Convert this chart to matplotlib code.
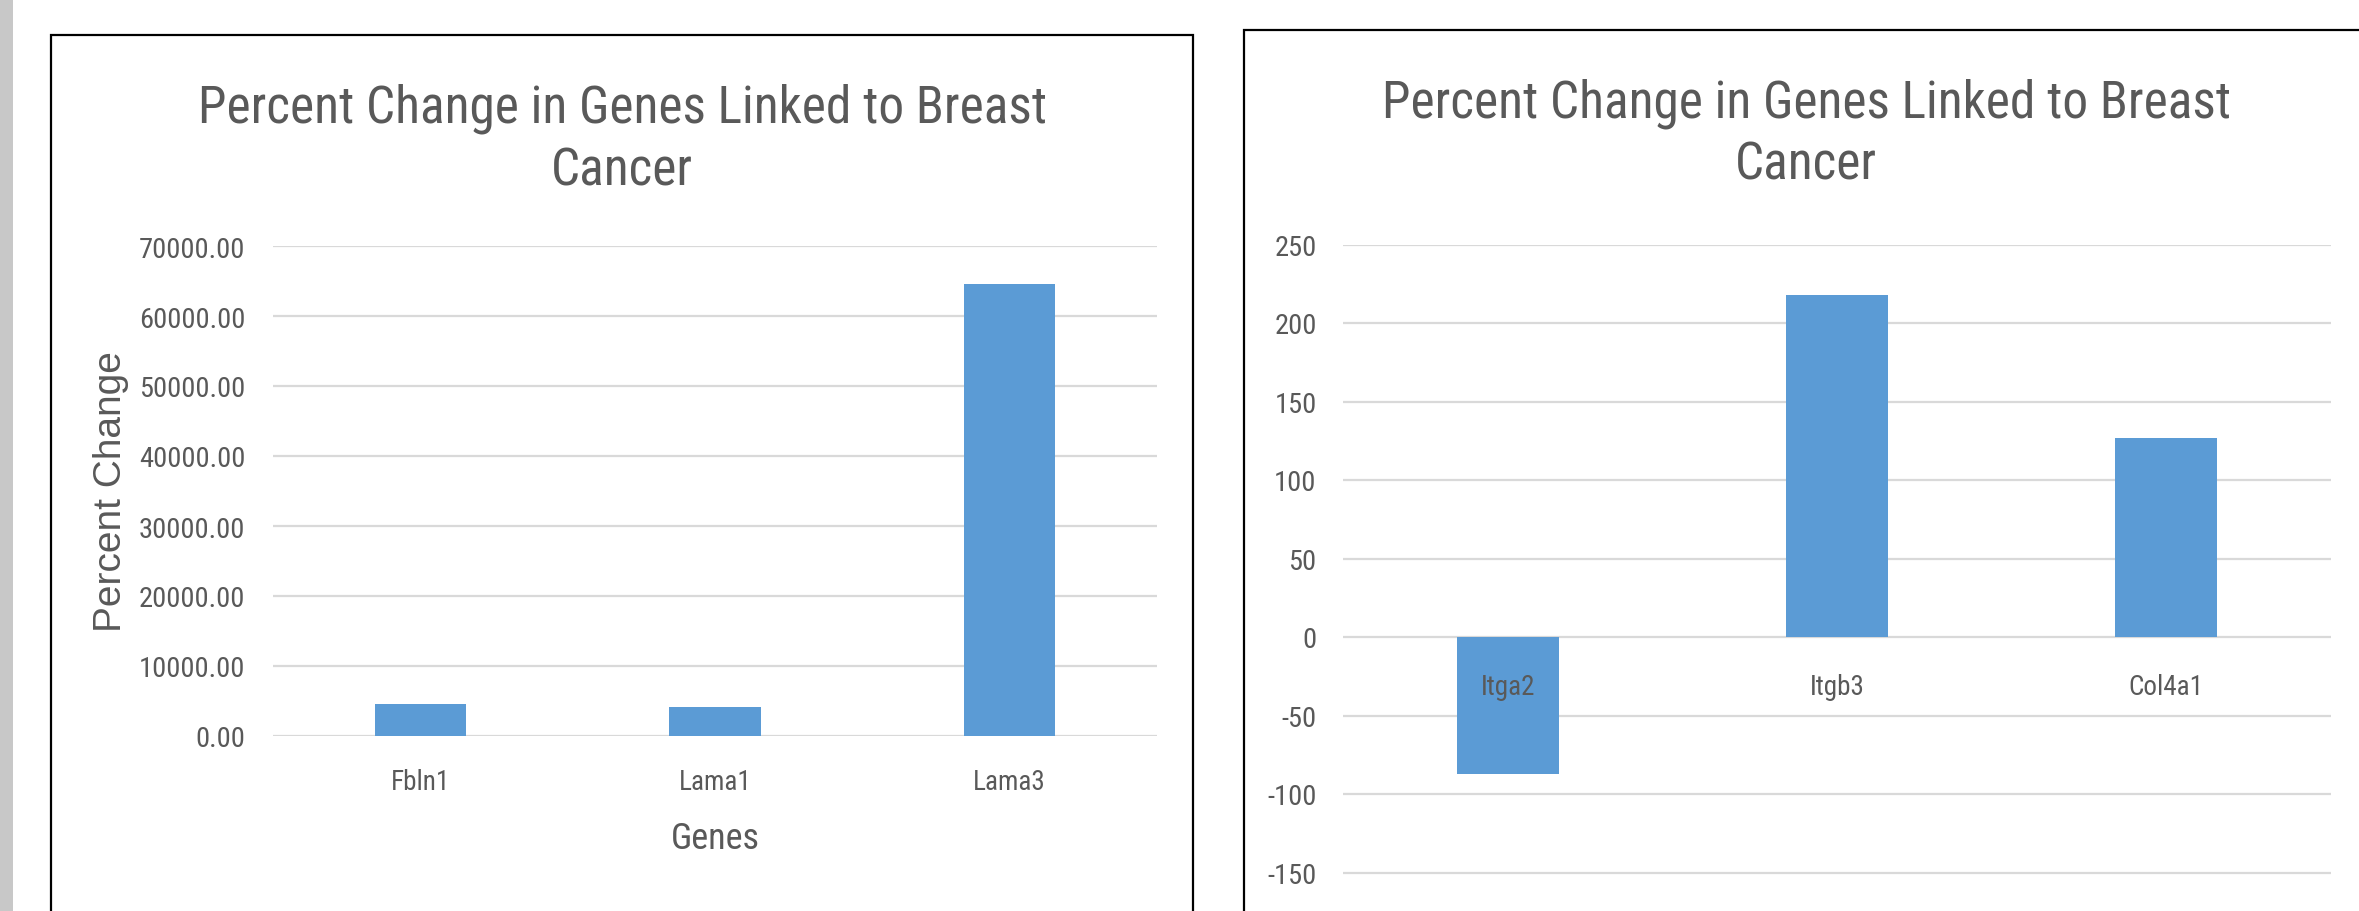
import numpy as np
import matplotlib
matplotlib.use("Agg")
import matplotlib.pyplot as plt
from matplotlib.patches import Rectangle
from matplotlib import font_manager
from matplotlib.font_manager import FontProperties

# data
left_genes = ["Fbln1", "Lama1", "Lama3"]
left_values = [4560, 4150, 64600]
left_yticks = [0, 10000, 20000, 30000, 40000, 50000, 60000, 70000]

right_genes = ["Itga2", "Itgb3", "Col4a1"]
right_values = [-87, 218, 127]
right_yticks = [-150, -100, -50, 0, 50, 100, 150, 200, 250]

title = "Percent Change in Genes Linked to Breast\nCancer"

W, H = 2359, 912
TXT = "#595959"
BAR = "#5B9BD5"
GRID = "#D9D9D9"


def find_narrow():
    # look for any regular condensed / narrow sans face on the system
    prefs = ["liberation sans narrow", "arial narrow", "roboto condensed",
             "open sans condensed", "noto sans", "dejavu sans", "lato", "inter"]
    found = []
    for f in font_manager.fontManager.ttflist:
        tag = (f.name + " " + str(f.stretch) + " " + f.fname).lower()
        if f.style != "normal":
            continue
        if f.weight not in (400, "normal", "regular", "book"):
            continue
        if not any(k in tag for k in ("narrow", "condensed", "cond")):
            continue
        if "extra" in tag or "ultra" in tag or "semi" in tag or "bold" in tag:
            continue
        rank = next((i for i, p in enumerate(prefs) if p in f.name.lower()), 99)
        found.append((rank, f.fname))
    if found:
        found.sort()
        return FontProperties(fname=found[0][1]), True
    return FontProperties(family="Liberation Sans"), False


narrow, is_narrow = find_narrow()
shrink = 1.0 if is_narrow else 0.85


def nf(size):
    fp = narrow.copy()
    fp.set_size(size * shrink)
    return fp


def px_box(x0, y0, x1, y1):
    # pixel box (top-left origin) -> figure fraction [l, b, w, h]
    return [x0 / W, 1 - y1 / H, (x1 - x0) / W, (y1 - y0) / H]


fig = plt.figure(figsize=(W / 100, H / 100), dpi=100)
fig.patch.set_facecolor("white")

# grey strip on the far left and the two chart frames
fig.patches.append(Rectangle((0, 0), 13 / W, 1, transform=fig.transFigure,
                             facecolor="#C8C8C8", edgecolor="none"))
for x0, y0, x1, y1 in [(51, 36, 1193, 925), (1244, 31, 2375, 960)]:
    l, b, w, h = px_box(x0, y0, x1, y1)
    fig.patches.append(Rectangle((l, b), w, h, transform=fig.transFigure,
                                 facecolor="none", edgecolor="black",
                                 linewidth=1.6, zorder=5))


def style(ax, yticks):
    for s in ax.spines.values():
        s.set_visible(False)
    ax.set_facecolor("none")
    for v in yticks:
        ax.axhline(v, color=GRID, linewidth=1.6, zorder=0.5)
    ax.tick_params(axis="both", length=0, colors=TXT)
    for lab in ax.get_yticklabels():
        lab.set_fontproperties(nf(20.5))
    for lab in ax.get_xticklabels():
        lab.set_fontproperties(nf(19.5))


# left chart
ax1 = fig.add_axes(px_box(273, 247, 1157, 737))
x1 = np.arange(len(left_genes))
ax1.bar(x1, left_values, width=0.31, color=BAR, zorder=1)
ax1.set_xlim(-0.5, 2.5)
ax1.set_ylim(0, 70000)
ax1.set_yticks(left_yticks)
ax1.set_yticklabels([f"{v:.2f}" for v in left_yticks])
ax1.set_xticks(x1)
ax1.set_xticklabels(left_genes)
style(ax1, left_yticks)
ax1.tick_params(axis="y", pad=20)
ax1.tick_params(axis="x", pad=23)
ax1.set_xlabel("Genes", fontproperties=nf(26), color=TXT, labelpad=18)
ax1.set_ylabel("Percent Change", fontfamily="Liberation Sans", fontsize=28,
               color=TXT)
ax1.yaxis.set_label_coords((129 - 273) / (1157 - 273), 0.5)

# right chart (its lower part is cut off by the screenshot)
ax2 = fig.add_axes(px_box(1343, 245.5, 2331, 952))
x2 = np.arange(len(right_genes))
ax2.bar(x2, right_values, width=0.31, color=BAR, zorder=1)
ax2.set_xlim(-0.5, 2.5)
ax2.set_ylim(-200, 250)
ax2.set_yticks(right_yticks)
ax2.set_yticklabels([str(v) for v in right_yticks])
ax2.set_xticks(x2)
ax2.set_xticklabels(right_genes)
ax2.spines["bottom"].set_position(("data", 0))
style(ax2, right_yticks)
ax2.tick_params(axis="y", pad=19)
ax2.tick_params(axis="x", pad=26)

# titles (baseline = last line)
for cx, base in [(622, 185), (1806, 180)]:
    fig.text(cx / W, 1 - base / H, title, ha="center", va="baseline",
             multialignment="center", fontproperties=nf(37),
             color=TXT, linespacing=1.32)

fig.savefig("out.png", dpi=100, facecolor="white")
